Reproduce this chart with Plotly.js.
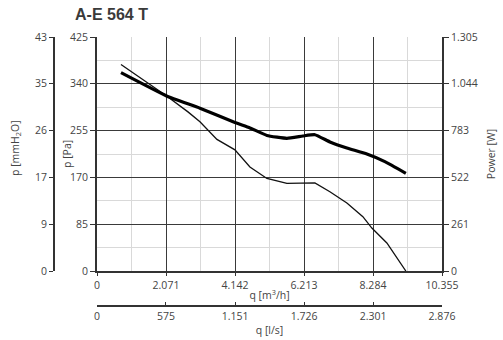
<!DOCTYPE html>
<html>
<head>
<meta charset="utf-8">
<script src="https://cdn.plot.ly/plotly-3.0.1.min.js"></script>
<style>html,body{margin:0;padding:0;background:#fff;}#chart{width:503px;height:340px;}</style>
</head>
<body>
<div id="chart"></div>
<script>
// Data
const flowM3h = [0.72, 2.09, 2.73, 3.09, 3.60, 4.14, 4.59, 5.10, 5.70, 6.54, 6.99, 7.50, 7.98, 8.25, 8.70, 9.27];
const pressurePa = [375, 318, 289, 271, 239, 220, 189, 168, 159, 160, 144, 123.5, 98.6, 78, 51, 0];
const flowPowerM3h = [0.72, 2.09, 3.09, 4.14, 4.59, 5.10, 5.70, 6.18, 6.54, 6.99, 7.50, 8.10, 8.64, 9.27];
const powerW = [1106, 976, 908, 828, 798, 756, 740, 753, 760, 720, 686, 652, 610, 545];

const qTicks = [0, 2.071, 4.142, 6.213, 8.284, 10.355];
const qTickText = ['0', '2.071', '4.142', '6.213', '8.284', '10.355'];
const qlsTicks = [0, 0.575, 1.151, 1.726, 2.301, 2.876];
const qlsTickText = ['0', '575', '1.151', '1.726', '2.301', '2.876'];
const paTicks = [0, 85, 170, 255, 340, 425];
const paTickText = ['0', '85', '170', '255', '340', '425'];
const mmTickText = ['0', '9', '17', '26', '35', '43'];
const wTicks = [0, 261, 522, 783, 1044, 1305];
const wTickText = ['0', '261', '522', '783', '1.044', '1.305'];

const W = 503, H = 340, ML = 10, MR = 10, MT = 10, MB = 10;
const pw = W - ML - MR, ph = H - MT - MB;
const xDom = [(97 - ML) / pw, (442 - ML) / pw];
const yDom = [(H - MB - 271) / ph, (H - MB - 37) / ph];

const fontFam = '"Open Sans", "DejaVu Sans", sans-serif';
const tickFont = {family: fontFam, size: 10.5, color: '#444'};
const titleFont = {family: fontFam, size: 10.5, color: '#444'};

const minorQ = [];
for (let i = 0; i < qTicks.length - 1; i++) minorQ.push((qTicks[i] + qTicks[i + 1]) / 2);
const minorP = [];
for (let i = 0; i < paTicks.length - 1; i++) minorP.push((paTicks[i] + paTicks[i + 1]) / 2);

const traces = [
  {x: flowM3h, y: pressurePa, xaxis: 'x', yaxis: 'y', mode: 'lines',
   line: {color: '#111', width: 1.3}, hoverinfo: 'skip', showlegend: false},
  {x: flowPowerM3h, y: powerW, xaxis: 'x', yaxis: 'y2', mode: 'lines',
   line: {color: '#000', width: 3.2, shape: 'spline', smoothing: 0.4}, hoverinfo: 'skip', showlegend: false},
  // carrier traces so the extra axes are drawn (invisible)
  {x: flowM3h, y: pressurePa, xaxis: 'x', yaxis: 'y3', mode: 'lines', opacity: 0,
   line: {width: 0}, hoverinfo: 'skip', showlegend: false},
  {x: flowM3h.map(v => v / 3.6), y: pressurePa, xaxis: 'x2', yaxis: 'y', mode: 'lines', opacity: 0,
   line: {width: 0}, hoverinfo: 'skip', showlegend: false}
];

const yMid = 1 - ((154 - MT) / ph);

const layout = {
  width: W, height: H,
  margin: {l: ML, r: MR, t: MT, b: MB, pad: 0},
  paper_bgcolor: '#fff', plot_bgcolor: '#fff',
  showlegend: false,
  title: {text: '<b>A-E 564 T</b>', xref: 'container', yref: 'container',
          x: 75 / W, xanchor: 'left', y: 1 - 14 / H, yanchor: 'middle',
          font: {family: 'Liberation Sans, Arial, sans-serif', size: 16, color: '#3a3a3a'}},
  xaxis: {domain: xDom, range: [0, 10.355], tickmode: 'array', tickvals: qTicks, ticktext: qTickText,
          showgrid: true, gridcolor: '#3a3a3a', gridwidth: 1, zeroline: false,
          showline: true, linecolor: '#333', linewidth: 2, ticks: 'outside', ticklen: 3, tickcolor: '#333',
          tickfont: tickFont, anchor: 'y',
          minor: {tickmode: 'array', tickvals: minorQ, showgrid: true, gridcolor: '#d9d9d9', gridwidth: 1, ticks: ''},
          title: {text: 'q [m<sup>3</sup>/h]', font: titleFont, standoff: 1}},
  xaxis2: {domain: xDom, overlaying: 'x', anchor: 'free', position: (H - MB - 306) / ph, side: 'bottom',
           range: [0, 2.876], tickmode: 'array', tickvals: qlsTicks, ticktext: qlsTickText,
           showgrid: false, zeroline: false, showline: true, linecolor: '#333', linewidth: 2,
           ticks: 'inside', ticklen: 3, tickcolor: '#333', tickfont: tickFont,
           title: {text: 'q [l/s]', font: titleFont, standoff: 4}},
  yaxis: {domain: yDom, range: [0, 425], tickmode: 'array', tickvals: paTicks, ticktext: paTickText,
          showgrid: true, gridcolor: '#3a3a3a', gridwidth: 1, zeroline: false,
          showline: true, linecolor: '#333', linewidth: 2, ticks: 'outside', ticklen: 5, tickcolor: '#333',
          tickfont: tickFont, anchor: 'x',
          minor: {tickmode: 'array', tickvals: minorP, showgrid: true, gridcolor: '#d9d9d9', gridwidth: 1, ticks: ''}},
  yaxis2: {domain: yDom, overlaying: 'y', side: 'right', anchor: 'x', range: [0, 1305],
           tickmode: 'array', tickvals: wTicks, ticktext: wTickText, showgrid: false, zeroline: false,
           showline: true, linecolor: '#333', linewidth: 2, ticks: 'outside', ticklen: 5, tickcolor: '#333',
           tickfont: tickFont,
           title: {text: 'Power [W]', font: titleFont, standoff: 11}},
  yaxis3: {domain: yDom, overlaying: 'y', side: 'left', anchor: 'free', position: (54 - ML) / pw,
           range: [0, 425], tickmode: 'array', tickvals: paTicks, ticktext: mmTickText,
           showgrid: false, zeroline: false, showline: true, linecolor: '#333', linewidth: 2,
           ticks: 'outside', ticklen: 4, tickcolor: '#333', tickfont: tickFont},
  annotations: [
    {text: 'p [Pa]', xref: 'paper', yref: 'paper', x: (67 - ML) / pw, y: yMid,
     xanchor: 'center', yanchor: 'middle', textangle: -90, showarrow: false, font: titleFont},
    {text: 'p [mmH<sub>2</sub>O]', xref: 'paper', yref: 'paper', x: (15 - ML) / pw, y: 1 - ((148 - MT) / ph),
     xanchor: 'center', yanchor: 'middle', textangle: -90, showarrow: false, font: titleFont}
  ]
};

Plotly.newPlot('chart', traces, layout, {staticPlot: true, displayModeBar: false});
</script>
</body>
</html>
